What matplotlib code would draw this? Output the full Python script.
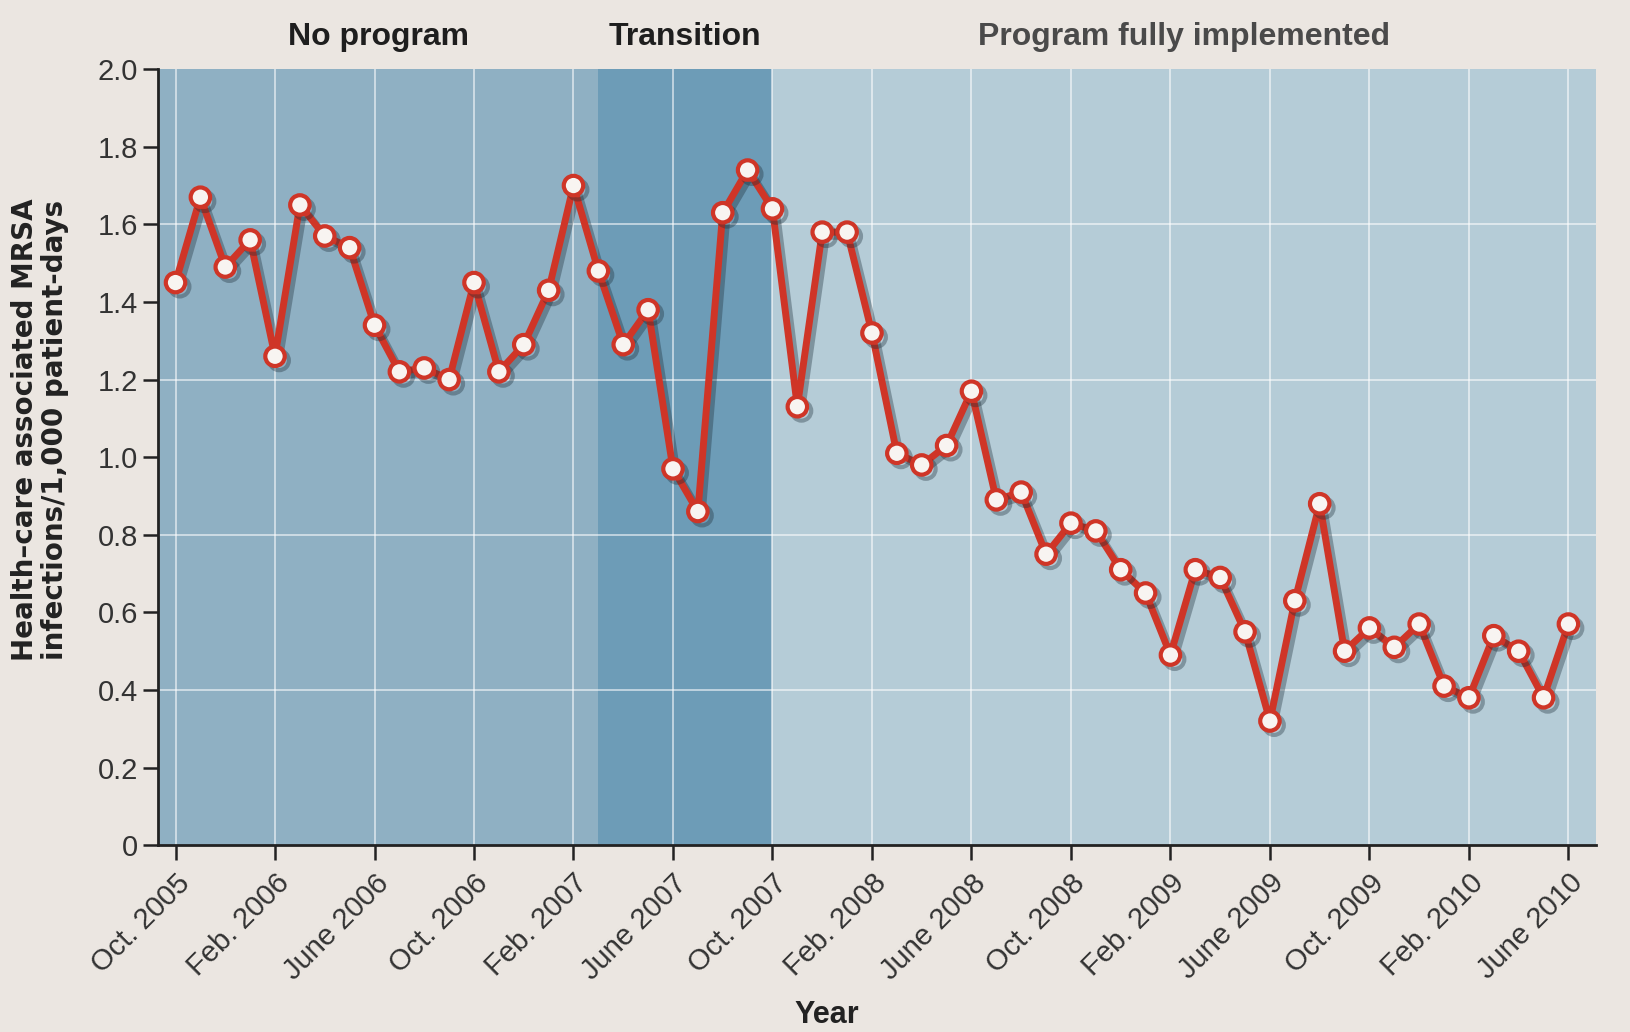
import numpy as np
import matplotlib
matplotlib.use('Agg')
import matplotlib.pyplot as plt
import matplotlib.patheffects as pe

# ── data (monthly, Oct 2005 .. June 2010) ─────────────────
values = [1.45, 1.67, 1.49, 1.56, 1.26, 1.65, 1.57, 1.54, 1.34, 1.22,
          1.23, 1.20, 1.45, 1.22, 1.29, 1.43, 1.70, 1.48, 1.29, 1.38,
          0.97, 0.86, 1.63, 1.74, 1.64, 1.13, 1.58, 1.58, 1.32, 1.01,
          0.98, 1.03, 1.17, 0.89, 0.91, 0.75, 0.83, 0.81, 0.71, 0.65,
          0.49, 0.71, 0.69, 0.55, 0.32, 0.63, 0.88, 0.50, 0.56, 0.51,
          0.57, 0.41, 0.38, 0.54, 0.50, 0.38, 0.57]

tick_labels = ["Oct. 2005", "Feb. 2006", "June 2006", "Oct. 2006",
               "Feb. 2007", "June 2007", "Oct. 2007", "Feb. 2008",
               "June 2008", "Oct. 2008", "Feb. 2009", "June 2009",
               "Oct. 2009", "Feb. 2010", "June 2010"]
ytick_labels = ["0", "0.2", "0.4", "0.6", "0.8", "1.0",
                "1.2", "1.4", "1.6", "1.8", "2.0"]

phase_names = ["No program", "Transition", "Program fully implemented"]
phase_edges = [-0.7, 17, 24, 57.1]   # month index boundaries

# ── style ─────────────────────────────────────────────────
phase_colors = ["#8fb0c3", "#6d9cb7", "#b5ccd7"]
phase_text_colors = ["#1e1e1e", "#1e1e1e", "#4a4a4a"]
RED = "#cf3527"
INK = "#222222"
plt.rcParams['font.family'] = ['Liberation Sans', 'DejaVu Sans']

fig = plt.figure(figsize=(16.3, 10.32), dpi=100, facecolor="#ebe6e1")
ax = fig.add_axes([0.097, 0.181, 0.882, 0.752])

x = np.arange(len(values))
ticks = x[::4]

# phase bands
for i in range(len(phase_names)):
    ax.axvspan(phase_edges[i], phase_edges[i + 1], color=phase_colors[i],
               lw=0, zorder=0)
    ax.text((phase_edges[i] + phase_edges[i + 1]) / 2, 1.042, phase_names[i],
            transform=ax.get_xaxis_transform(), ha="center", va="center",
            fontsize=23, fontweight="bold", color=phase_text_colors[i])

# white grid
for yv in [0.4, 0.8, 1.2, 1.6]:
    ax.axhline(yv, color="white", lw=1.2, alpha=0.65, zorder=1)
for t in ticks:
    ax.axvline(t, color="white", lw=1.2, alpha=0.65, zorder=1)

# series
ax.plot(x, values, color=RED, lw=5, marker="o", ms=14,
        mfc="#f8f4f1", mec=RED, mew=3, zorder=5, clip_on=False,
        path_effects=[pe.SimpleLineShadow(offset=(3, -3),
                                          shadow_color="#1a2a35", alpha=0.35),
                      pe.Normal()])

ax.set_xlim(phase_edges[0], phase_edges[-1])
ax.set_ylim(0, 2.0)
ax.set_facecolor("none")

for s in ["top", "right"]:
    ax.spines[s].set_visible(False)
for s in ["left", "bottom"]:
    ax.spines[s].set_color(INK)
    ax.spines[s].set_linewidth(2)

ax.set_yticks(np.linspace(0, 2.0, len(ytick_labels)))
ax.set_yticklabels(ytick_labels)
ax.set_xticks(ticks)
ax.set_xticklabels(tick_labels, rotation=45, ha="right",
                   rotation_mode="anchor")
ax.tick_params(axis="both", direction="out", length=11, width=1.8,
               color=INK, labelsize=21, labelcolor="#333333")
ax.tick_params(axis="x", pad=6)

ax.set_ylabel("Health\u2013care associated MRSA\ninfections/1,000 patient-days",
              fontsize=20, fontweight="bold", color=INK,
              family="DejaVu Sans", linespacing=1.1)
ax.yaxis.set_label_coords(-0.062, 0.535)
ax.set_xlabel("Year", fontsize=22, fontweight="bold", color=INK)
ax.xaxis.set_label_coords(0.465, -0.2)

fig.savefig("out.png", dpi=100, facecolor=fig.get_facecolor())
